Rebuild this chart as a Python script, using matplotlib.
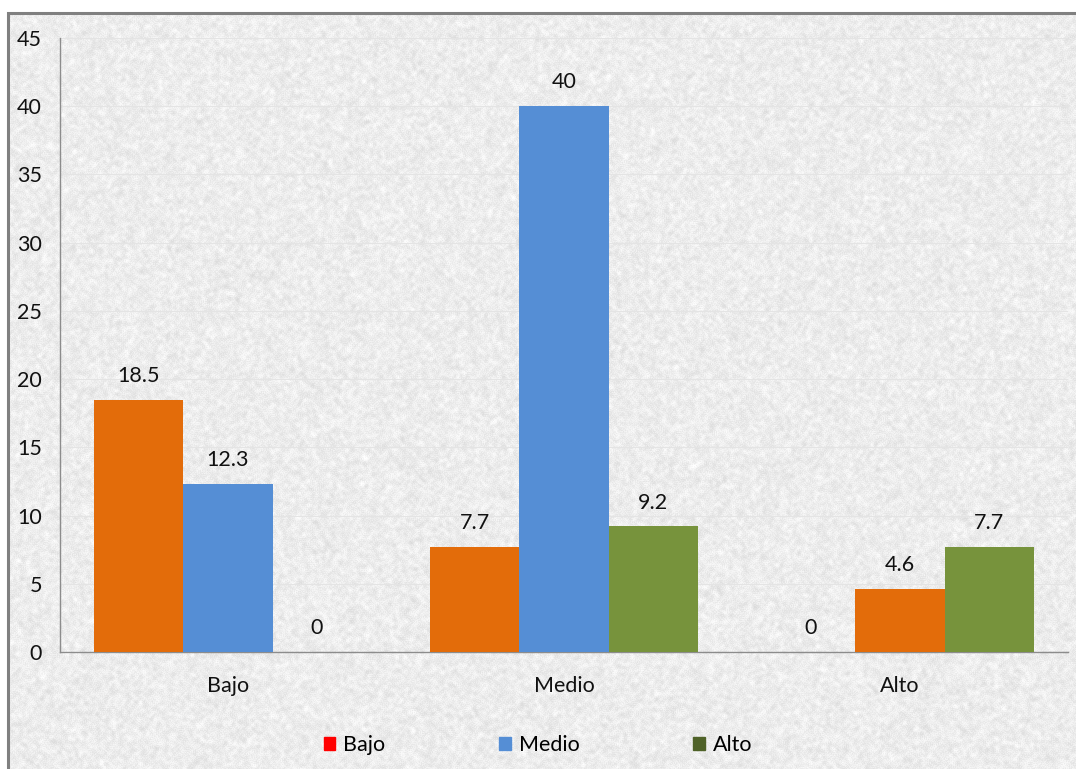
import numpy as np
import matplotlib
matplotlib.use("Agg")
import matplotlib.pyplot as plt
from matplotlib.patches import Rectangle

plt.rcParams['font.family'] = ['Lato', 'DejaVu Sans']

categories = ["Bajo", "Medio", "Alto"]
series_names = ["Bajo", "Medio", "Alto"]
bajo_vals = [18.5, 7.7, 0]
medio_vals = [12.3, 40, 4.6]
alto_vals = [0, 9.2, 7.7]
y_ticks = [0, 5, 10, 15, 20, 25, 30, 35, 40, 45]

ORANGE = "#E36C0A"
BLUE = "#558ED5"
GREEN = "#77933C"
legend_colors = ["#FF0000", BLUE, "#4F6228"]
# bar colours per series and category (the Medio bar in the Alto group is orange)
bar_colors = [
    [ORANGE, ORANGE, ORANGE],
    [BLUE, BLUE, ORANGE],
    [GREEN, GREEN, GREEN],
]

FS = 15.5
W, H = 1076, 769
fig = plt.figure(figsize=(W / 100, H / 100), dpi=100)
fig.patch.set_facecolor("white")

# paper-like grainy backdrop
bg = fig.add_axes([0, 0, 1, 1], zorder=-10)
rng = np.random.default_rng(7)
noise = rng.random((H, W))
k = 2
pad = np.pad(noise, k, mode="wrap")
sm = np.zeros_like(noise)
for dy in range(-k, k + 1):
    for dx in range(-k, k + 1):
        sm += pad[k + dy:k + dy + H, k + dx:k + dx + W]
sm /= (2 * k + 1) ** 2
sm = (sm - sm.mean()) / sm.std()
tex = 0.6 * (noise - 0.5) + 0.4 * sm * 0.35
gray = np.clip(0.93 + 0.09 * tex, 0.78, 1.0)
img = np.dstack([gray, gray, gray])
img[:13, :, :] = 1.0
img[:, :8, :] = 1.0
bg.imshow(img, aspect="auto", extent=[0, 1, 0, 1], interpolation="nearest")
bg.add_patch(Rectangle((8 / W, -0.01), 1.1, 1 - 13 / H + 0.01, transform=bg.transAxes,
                       fill=False, edgecolor="#808080", linewidth=2.2))
bg.set_xlim(0, 1)
bg.set_ylim(0, 1)
bg.axis("off")

ax = fig.add_axes([60 / W, 1 - 652 / H, (1068 - 60) / W, (652 - 38) / H])
ax.set_facecolor("none")

x = np.arange(len(categories))
width = 0.265
all_vals = [bajo_vals, medio_vals, alto_vals]
for i, vals in enumerate(all_vals):
    pos = x + (i - 1) * width
    ax.bar(pos, vals, width=width, color=bar_colors[i], linewidth=0, zorder=3)
    for xp, v in zip(pos, vals):
        ax.annotate(f"{v:g}", (xp, v), xytext=(0, 10), textcoords="offset points",
                    ha="center", va="bottom", fontsize=FS, color="#111111")

ax.set_xlim(-0.5, 2.5)
ax.set_ylim(0, 45)
ax.set_yticks(y_ticks)
ax.set_xticks(x)
ax.set_xticklabels(categories)
ax.tick_params(axis="both", length=0, labelsize=FS, colors="#111111")
ax.tick_params(axis="y", pad=13)
ax.tick_params(axis="x", pad=17)
ax.yaxis.grid(True, color="#e4e4e4", linewidth=0.8, zorder=0)
for s in ["top", "right"]:
    ax.spines[s].set_visible(False)
ax.spines["left"].set_color("#8c8c8c")
ax.spines["bottom"].set_color("#8c8c8c")
ax.spines["left"].set_linewidth(1)
ax.spines["bottom"].set_linewidth(1)

handles = [Rectangle((0, 0), 1, 1, color=c) for c in legend_colors]
fig.legend(handles, series_names, loc="center", bbox_to_anchor=(538 / W, 1 - 745 / H),
           ncol=3, frameon=False, fontsize=FS, handlelength=0.55, handleheight=0.6,
           handletextpad=0.35, columnspacing=5.3)

fig.savefig("out.png", dpi=100)
